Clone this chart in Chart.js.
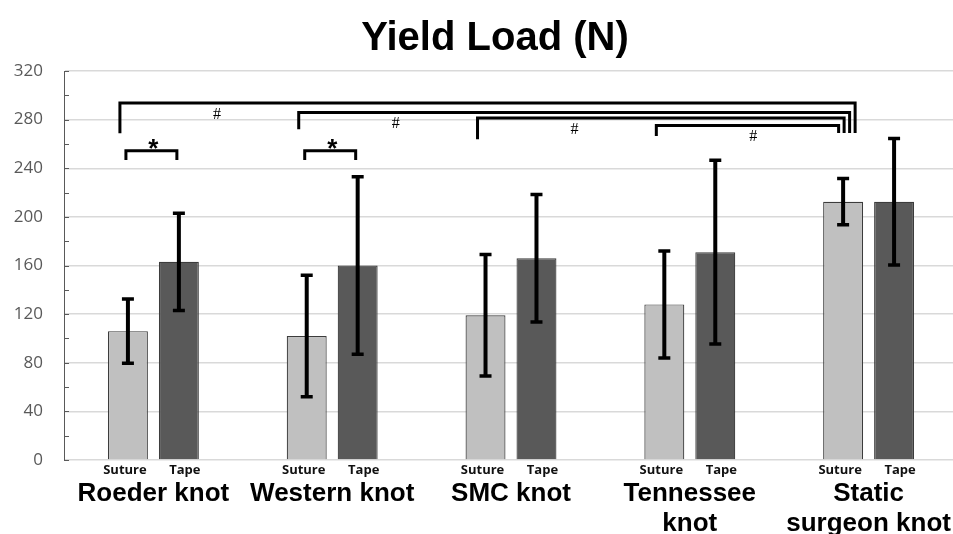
<!DOCTYPE html>
<html>
<head>
<meta charset="utf-8">
<title>Yield Load (N)</title>
<script src="https://cdn.jsdelivr.net/npm/chart.js@4.4.1/dist/chart.umd.min.js"></script>
<style>
  html, body { margin: 0; padding: 0; background: #fff; }
  #wrap { width: 953px; height: 534px; overflow: hidden; }
</style>
</head>
<body>
<div id="wrap"><canvas id="chartYield" width="958" height="534"></canvas></div>
<script>
'use strict'

// knot groups (x axis), two bars each
var knots = [['Roeder knot'], ['Western knot'], ['SMC knot'], ['Tennessee', 'knot'], ['Static', 'surgeon knot']];
var barNames = ['Suture', 'Tape'];

// mean yield load and standard deviation (N)
var sutureMean = [106, 102, 119, 128, 212.5];
var sutureSD = [26.5, 50, 50, 44, 19];
var tapeMean = [163, 160, 166, 171, 212.5];
var tapeSD = [40, 73, 52.5, 75.5, 52];

var yTicks = [0, 40, 80, 120, 160, 200, 240, 280, 320];

// * : suture vs tape within a group
var starGroups = [0, 1];
var starTop = 254.4, starLeg = 246.8;

// # : group suture vs static surgeon knot suture
var hashFrom = [0, 1, 2, 3];
var hashTop = [293.7, 285.9, 281.3, 275.2];
var hashLeg = [268.7, 272, 263.8, 266.5];
var hashLegRight = 269;

var overlay = {
    id: 'overlay',
    afterDatasetsDraw: function(chart) {
        var ctx = chart.ctx;
        var y = chart.scales.y;
        var area = chart.chartArea;
        var sut = chart.getDatasetMeta(0).data;
        var tap = chart.getDatasetMeta(1).data;

        ctx.save();

        // minor tick marks on the value axis
        ctx.strokeStyle = '#595959';
        ctx.lineWidth = 1;
        for (var v = 0; v <= 320; v += 20) {
            var py = Math.round(y.getPixelForValue(v)) + 0.5;
            ctx.beginPath();
            ctx.moveTo(area.left, py);
            ctx.lineTo(area.left + 5, py);
            ctx.stroke();
        }

        // error bars
        ctx.strokeStyle = '#000';
        function errBar(x, mean, sd) {
            var top = y.getPixelForValue(mean + sd);
            var bot = y.getPixelForValue(mean - sd);
            ctx.lineWidth = 4;
            ctx.beginPath();
            ctx.moveTo(x, top);
            ctx.lineTo(x, bot);
            ctx.stroke();
            ctx.lineWidth = 3.5;
            ctx.beginPath();
            ctx.moveTo(x - 6, top);
            ctx.lineTo(x + 6, top);
            ctx.moveTo(x - 6, bot);
            ctx.lineTo(x + 6, bot);
            ctx.stroke();
        }
        for (var i = 0; i < knots.length; i++) {
            errBar(sut[i].x, sutureMean[i], sutureSD[i]);
            errBar(tap[i].x, tapeMean[i], tapeSD[i]);
        }

        // significance brackets
        ctx.lineWidth = 3;
        ctx.lineJoin = 'miter';
        ctx.fillStyle = '#000';
        starGroups.forEach(function(g) {
            var x1 = sut[g].x - 2, x2 = tap[g].x - 2;
            var t = y.getPixelForValue(starTop), b = y.getPixelForValue(starLeg);
            ctx.beginPath();
            ctx.moveTo(x1, b);
            ctx.lineTo(x1, t);
            ctx.lineTo(x2, t);
            ctx.lineTo(x2, b);
            ctx.stroke();
            ctx.font = 'bold 26px "Liberation Sans"';
            ctx.textAlign = 'center';
            ctx.textBaseline = 'alphabetic';
            ctx.fillText('*', (sut[g].x + tap[g].x) / 2, t + 6);
        });

        var last = sut[knots.length - 1].x;
        hashFrom.forEach(function(g, k) {
            var x1 = sut[g].x - 8;
            var x2 = last + 12 - 5.5 * k;
            var t = y.getPixelForValue(hashTop[k]);
            ctx.beginPath();
            ctx.moveTo(x1, y.getPixelForValue(hashLeg[k]));
            ctx.lineTo(x1, t);
            ctx.lineTo(x2, t);
            ctx.lineTo(x2, y.getPixelForValue(hashLegRight));
            ctx.stroke();
            ctx.font = '16px "Liberation Serif"';
            ctx.textAlign = 'center';
            ctx.textBaseline = 'alphabetic';
            ctx.fillText('#', x1 + 97, t + 16);
        });

        // Suture / Tape labels under each bar
        ctx.font = 'bold 13px "Open Sans"';
        ctx.fillStyle = '#111';
        ctx.textAlign = 'center';
        for (var j = 0; j < knots.length; j++) {
            ctx.fillText(barNames[0], sut[j].x - 3, area.bottom + 14);
            ctx.fillText(barNames[1], tap[j].x + 6, area.bottom + 14);
        }

        // title
        ctx.font = 'bold 40px "Liberation Sans"';
        ctx.fillStyle = '#000';
        ctx.fillText('Yield Load (N)', chart.width / 2 + 16, 50);

        ctx.restore();
    }
};

var ctxYield = document.getElementById('chartYield');
var yieldChart = new Chart(ctxYield, {
    type: 'bar',
    data: {
        labels: knots,
        datasets: [{
            label: barNames[0],
            data: sutureMean,
            backgroundColor: '#c0c0c0',
            borderColor: '#3c3c3c',
            borderWidth: 1.2,
            categoryPercentage: 0.57,
            barPercentage: 0.784
        }, {
            label: barNames[1],
            data: tapeMean,
            backgroundColor: '#595959',
            borderColor: '#3c3c3c',
            borderWidth: 1.2,
            categoryPercentage: 0.57,
            barPercentage: 0.784
        }]
    },
    options: {
        responsive: false,
        animation: false,
        layout: { padding: { top: 71, right: 0, left: 0, bottom: 0 } },
        plugins: {
            legend: { display: false },
            title: { display: false },
            tooltip: { enabled: false }
        },
        scales: {
            x: {
                grid: { display: false },
                border: { display: false },
                ticks: {
                    color: '#000',
                    font: { family: 'Liberation Sans', size: 26, weight: 'bold', lineHeight: 1.15 },
                    padding: 11,
                    maxRotation: 0,
                    autoSkip: false
                },
                afterFit: function(scale) {
                    scale.height = 74;
                    scale.paddingLeft = 0;
                    scale.paddingRight = 0;
                }
            },
            y: {
                min: 0,
                max: 320,
                afterBuildTicks: function(scale) {
                    scale.ticks = yTicks.map(function(v) { return { value: v }; });
                },
                grid: { color: '#d9d9d9', lineWidth: 1.5, drawTicks: false },
                border: { display: true, color: '#595959', width: 1 },
                ticks: {
                    color: '#595959',
                    font: { family: 'Open Sans', size: 17 },
                    padding: 21
                },
                afterFit: function(scale) { scale.width = 64; }
            }
        }
    },
    plugins: [overlay]
});
</script>
</body>
</html>
